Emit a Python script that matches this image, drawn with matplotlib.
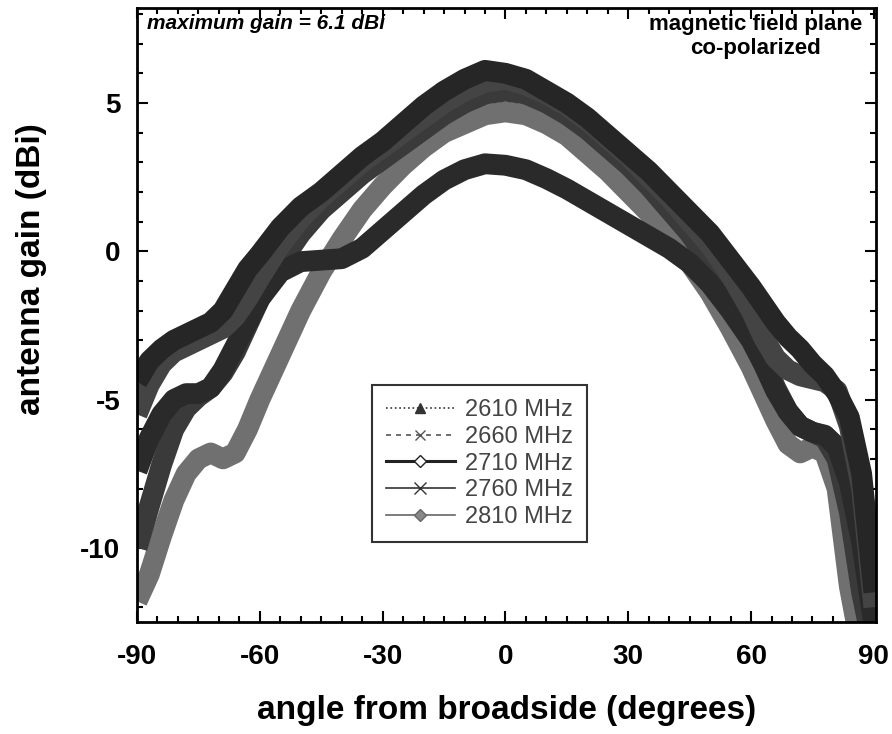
import matplotlib
matplotlib.use("Agg")
import matplotlib.pyplot as plt
from matplotlib.lines import Line2D
from matplotlib.ticker import MultipleLocator

plt.rcParams["font.family"] = ["Liberation Sans", "DejaVu Sans"]
plt.rcParams["axes.unicode_minus"] = False

# angle grid (degrees) shared by all five traces
angle = [-90, -87, -84, -81, -78, -75, -72, -69, -66, -63, -60, -55, -50, -45, -40,
         -35, -30, -25, -20, -15, -10, -5, 0, 5, 10, 15, 20, 25, 30, 35, 40, 45,
         50, 55, 60, 63, 66, 69, 72, 75, 78, 81, 84, 87, 90]

gain_2610 = [-4.4, -3.7, -3.3, -3.0, -2.8, -2.6, -2.4, -2.0, -1.3, -0.6, -0.1, 0.8, 1.5, 2.0, 2.6,
             3.2, 3.7, 4.3, 4.9, 5.4, 5.8, 6.1, 6.0, 5.8, 5.4, 5.0, 4.5, 3.9, 3.3, 2.7, 2.0, 1.3,
             0.6, -0.3, -1.2, -1.8, -2.4, -2.9, -3.3, -3.8, -4.2, -4.8, -5.6, -7.5, -11.5]
gain_2660 = [-5.5, -4.5, -3.8, -3.4, -3.2, -3.0, -2.8, -2.6, -2.2, -1.6, -0.9, 0.2, 1.1, 1.8, 2.4,
             3.0, 3.5, 4.0, 4.5, 5.0, 5.4, 5.7, 5.8, 5.6, 5.3, 4.9, 4.4, 3.8, 3.2, 2.5, 1.8, 1.0,
             0.2, -0.8, -2.0, -2.9, -3.6, -4.0, -4.2, -4.3, -4.4, -4.7, -5.9, -8.0, -12.0]
gain_2710 = [-7.4, -6.3, -5.5, -5.0, -4.8, -4.8, -4.6, -4.0, -3.2, -2.4, -1.6, -0.7, -0.35, -0.3, -0.25,
             0.1, 0.7, 1.3, 1.9, 2.4, 2.75, 2.95, 2.9, 2.75, 2.45, 2.1, 1.7, 1.3, 0.9, 0.5, 0.1, -0.4,
             -1.1, -2.0, -3.0, -3.8, -4.7, -5.4, -5.9, -6.1, -6.2, -6.6, -7.8, -9.8, -12.6]
gain_2760 = [-10.0, -8.6, -7.2, -6.0, -5.3, -4.9, -4.6, -4.1, -3.4, -2.5, -1.6, -0.4, 0.6, 1.4, 2.0,
             2.6, 3.1, 3.6, 4.1, 4.6, 5.0, 5.3, 5.4, 5.3, 5.0, 4.6, 4.1, 3.5, 2.9, 2.2, 1.4, 0.6,
             -0.4, -1.5, -2.7, -3.6, -4.6, -5.4, -5.9, -6.1, -6.3, -7.0, -8.8, -11.5, -13.5]
gain_2810 = [-11.8, -10.9, -9.6, -8.4, -7.5, -7.0, -6.8, -7.0, -6.8, -6.0, -5.0, -3.5, -2.0, -0.7, 0.4,
             1.4, 2.2, 2.9, 3.5, 4.0, 4.3, 4.6, 4.7, 4.6, 4.3, 3.9, 3.3, 2.7, 2.0, 1.3, 0.5, -0.4,
             -1.4, -2.6, -3.9, -4.8, -5.7, -6.5, -6.8, -6.6, -6.8, -8.0, -11.3, -13.5, -14.0]

labels = ["2610 MHz", "2660 MHz", "2710 MHz", "2760 MHz", "2810 MHz"]

fig = plt.figure(figsize=(8.92, 7.34), dpi=100)
ax = fig.add_axes([0.1536, 0.1526, 0.8284, 0.8364])

band_lw = 15
ax.plot(angle, gain_2810, color="#707070", lw=band_lw, solid_capstyle="butt", solid_joinstyle="round")
ax.plot(angle, gain_2760, color="#3a3a3a", lw=band_lw, solid_capstyle="butt", solid_joinstyle="round")
ax.plot(angle, gain_2710, color="#2a2a2a", lw=band_lw, solid_capstyle="butt", solid_joinstyle="round")
ax.plot(angle, gain_2660, color="#444444", lw=band_lw, solid_capstyle="butt", solid_joinstyle="round")
ax.plot(angle, gain_2610, color="#262626", lw=band_lw, solid_capstyle="butt", solid_joinstyle="round")

ax.set_xlim(-90, 90.5)
ax.set_ylim(-12.5, 8.2)
ax.xaxis.set_major_locator(MultipleLocator(30))
ax.xaxis.set_minor_locator(MultipleLocator(5))
ax.yaxis.set_major_locator(MultipleLocator(5))
ax.yaxis.set_minor_locator(MultipleLocator(1))
ax.tick_params(which="both", direction="in", top=True, right=True, width=1.5)
ax.tick_params(which="major", length=8, labelsize=20)
ax.tick_params(axis="x", which="major", pad=16)
ax.tick_params(axis="y", which="major", pad=12)
ax.tick_params(which="minor", length=4)
for lab in ax.get_xticklabels() + ax.get_yticklabels():
    lab.set_fontweight("bold")
for s in ax.spines.values():
    s.set_linewidth(2)

ax.set_xlabel("angle from broadside (degrees)", fontsize=24, fontweight="bold", labelpad=18)
ax.set_ylabel("antenna gain (dBi)", fontsize=24, fontweight="bold")
ax.yaxis.set_label_coords(-0.122, 0.575)

ax.text(0.014, 0.975, "maximum gain = 6.1 dBi", transform=ax.transAxes,
        fontsize=15, fontstyle="italic", fontweight="bold", ha="left", va="center")
ax.text(0.981, 0.99, "magnetic field plane\nco-polarized", transform=ax.transAxes,
        fontsize=16, fontweight="bold", ha="right", va="top", multialignment="center",
        linespacing=1.2)

handles = [
    Line2D([], [], color="#333333", lw=1.2, ls=":", marker="^", ms=7),
    Line2D([], [], color="#555555", lw=1.2, ls=(0, (3, 3)), marker="x", ms=7),
    Line2D([], [], color="#222222", lw=2.2, ls="-", marker="D", ms=6, mfc="white"),
    Line2D([], [], color="#333333", lw=1.2, ls="-", marker="x", ms=8),
    Line2D([], [], color="#666666", lw=1.2, ls="-", marker="D", ms=6, mfc="#888888"),
]
leg = ax.legend(handles, labels, loc="upper left", bbox_to_anchor=(0.318, 0.386),
                borderaxespad=0, fontsize=17, handlelength=2.9, labelspacing=0.2,
                frameon=True, fancybox=False, edgecolor="black", borderpad=0.6,
                handletextpad=0.45)
leg.get_frame().set_linewidth(1.5)
for t in leg.get_texts():
    t.set_color("#444444")

fig.savefig("out.png", dpi=100)
